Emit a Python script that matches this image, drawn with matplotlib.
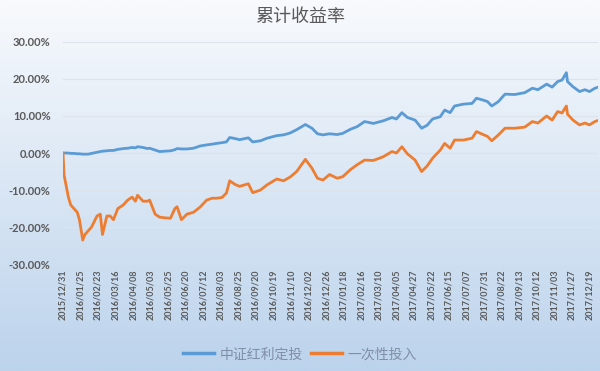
import numpy as np
import matplotlib
matplotlib.use("Agg")
import matplotlib.pyplot as plt
from matplotlib.lines import Line2D

plt.rcParams["font.family"] = ["Lato", "Noto Sans CJK SC", "DejaVu Sans"]

# trading-day index (0 = 2015/12/31) and cumulative return in %
day = [0, 1, 3, 5, 7, 10, 13, 15, 18, 20, 23, 26, 31, 34, 36, 40, 43, 46, 50, 55,
       59, 63, 66, 68, 73, 77, 79, 84, 88, 93, 98, 102, 104, 108, 113, 119, 125, 131, 136, 140,
       145, 149, 152, 157, 161, 169, 173, 180, 186, 195, 201, 207, 213, 221, 227, 232, 237, 243, 250, 255,
       262, 268, 275, 283, 292, 300, 304, 309, 314, 321, 327, 332, 337, 344, 348, 353, 357, 365, 373, 377,
       383, 387, 391, 397, 403, 412, 421, 428, 433, 441, 446, 451, 455, 459, 460, 465, 471, 476, 480, 485,
       487]
dingtou = [0.0, 0.0, 0.0, 0.0, -0.1, -0.1, -0.2, -0.2, -0.3, -0.3, -0.3, -0.1, 0.2, 0.4, 0.5, 0.6, 0.7, 0.7, 1.0, 1.2,
           1.3, 1.5, 1.4, 1.7, 1.5, 1.2, 1.3, 0.8, 0.4, 0.5, 0.6, 0.9, 1.2, 1.1, 1.1, 1.3, 1.9, 2.2, 2.4, 2.6,
           2.8, 3.0, 4.2, 3.9, 3.6, 4.1, 3.0, 3.3, 4.0, 4.7, 4.9, 5.4, 6.3, 7.7, 6.7, 5.2, 4.9, 5.2, 5.0, 5.3,
           6.4, 7.1, 8.5, 8.0, 8.7, 9.6, 9.2, 10.9, 9.6, 8.9, 6.7, 7.5, 9.2, 9.8, 11.6, 10.9, 12.7, 13.2, 13.4, 14.8,
           14.3, 13.9, 12.7, 13.9, 15.9, 15.8, 16.3, 17.5, 17.1, 18.6, 17.8, 19.3, 19.7, 21.7, 19.3, 17.9, 16.6, 17.1, 16.6, 17.5,
           17.7]
yicixing = [0.0, -6.0, -9.0, -12.0, -14.0, -15.0, -16.0, -18.0, -23.5, -22.0, -21.0, -20.0, -17.0, -16.5, -22.0, -17.0, -17.0, -18.0, -15.0, -14.0,
            -12.7, -11.9, -13.0, -11.4, -13.0, -13.0, -12.7, -16.5, -17.3, -17.5, -17.6, -15.0, -14.5, -18.0, -16.5, -16.0, -14.6, -12.7, -12.2, -12.2,
            -12.0, -10.8, -7.5, -8.5, -9.0, -8.3, -10.7, -10.0, -8.6, -7.0, -7.5, -6.5, -5.0, -1.7, -4.1, -6.8, -7.3, -5.8, -6.8, -6.4,
            -4.5, -3.2, -1.9, -2.0, -1.0, 0.4, 0.0, 1.7, -0.2, -1.9, -5.0, -3.5, -1.4, 0.8, 2.6, 1.3, 3.5, 3.5, 4.0, 5.8,
            5.0, 4.5, 3.3, 4.9, 6.7, 6.7, 7.0, 8.5, 8.1, 10.0, 8.9, 11.2, 10.8, 12.7, 10.5, 8.9, 7.6, 8.1, 7.6, 8.5,
            8.7]

tick_labels = ["2015/12/31", "2016/01/25", "2016/02/23", "2016/03/16", "2016/04/08", "2016/05/03",
               "2016/05/25", "2016/06/20", "2016/07/12", "2016/08/03", "2016/08/25", "2016/09/20",
               "2016/10/19", "2016/11/10", "2016/12/02", "2016/12/26", "2017/01/18", "2017/02/16",
               "2017/03/10", "2017/04/05", "2017/04/27", "2017/05/22", "2017/06/15", "2017/07/07",
               "2017/07/31", "2017/08/22", "2017/09/13", "2017/10/12", "2017/11/03", "2017/11/27",
               "2017/12/19"]
tick_step = 16  # one label every 16 trading days

BLUE = "#5B9BD5"
ORANGE = "#ED7D31"
GREY = "#595959"

fig = plt.figure(figsize=(6, 3.71), dpi=100)

# gradient background for the whole chart area
bg = fig.add_axes([0, 0, 1, 1], zorder=-10)
grad = np.linspace(0, 1, 256)[:, None]
top = np.array([248, 250, 253]) / 255
bot = np.array([188, 211, 236]) / 255
img = top + (bot - top) * grad[..., None]
bg.imshow(img, aspect="auto", extent=[0, 1, 0, 1], origin="upper")
bg.axis("off")

ax = fig.add_axes([0.105, 0.288, 0.892, 0.599])
ax.patch.set_alpha(0)
ax.plot(day, dingtou, color=BLUE, lw=2.0, label="中证红利定投")
ax.plot(day, yicixing, color=ORANGE, lw=2.0, label="一次性投入")

ax.set_xlim(0, 488)
ax.set_ylim(-30, 30)
ax.set_yticks(range(-30, 31, 10))
ax.set_yticklabels([f"{v:.2f}%" for v in range(-30, 31, 10)])
ax.set_xticks(np.arange(len(tick_labels)) * tick_step)
ax.set_xticklabels(tick_labels, rotation=90)
for s in ax.spines.values():
    s.set_visible(False)
ax.grid(axis="y", color="#dde3ea", lw=0.8)
ax.set_axisbelow(True)
ax.tick_params(axis="both", length=0, colors=GREY)
ax.tick_params(axis="y", pad=9, labelsize=8)
ax.tick_params(axis="x", pad=4, labelsize=6.5)
for t in ax.get_xticklabels() + ax.get_yticklabels():
    t.set_fontweight("bold")

fig.text(0.5, 0.955, "累计收益率", ha="center", va="center", fontsize=13,
         color=GREY, family=["Noto Sans CJK SC", "DejaVu Sans"])

handles = [Line2D([], [], color=BLUE, lw=2.5), Line2D([], [], color=ORANGE, lw=2.5)]
fig.legend(handles, ["中证红利定投", "一次性投入"], loc="center", bbox_to_anchor=(0.5, 0.045),
           ncol=2, frameon=False, fontsize=10, handlelength=2.2, columnspacing=0.6,
           handletextpad=0.4, labelcolor="#7f8fa6",
           prop={"family": ["Noto Sans CJK SC", "DejaVu Sans"], "size": 10})

fig.savefig("out.png", dpi=100)
